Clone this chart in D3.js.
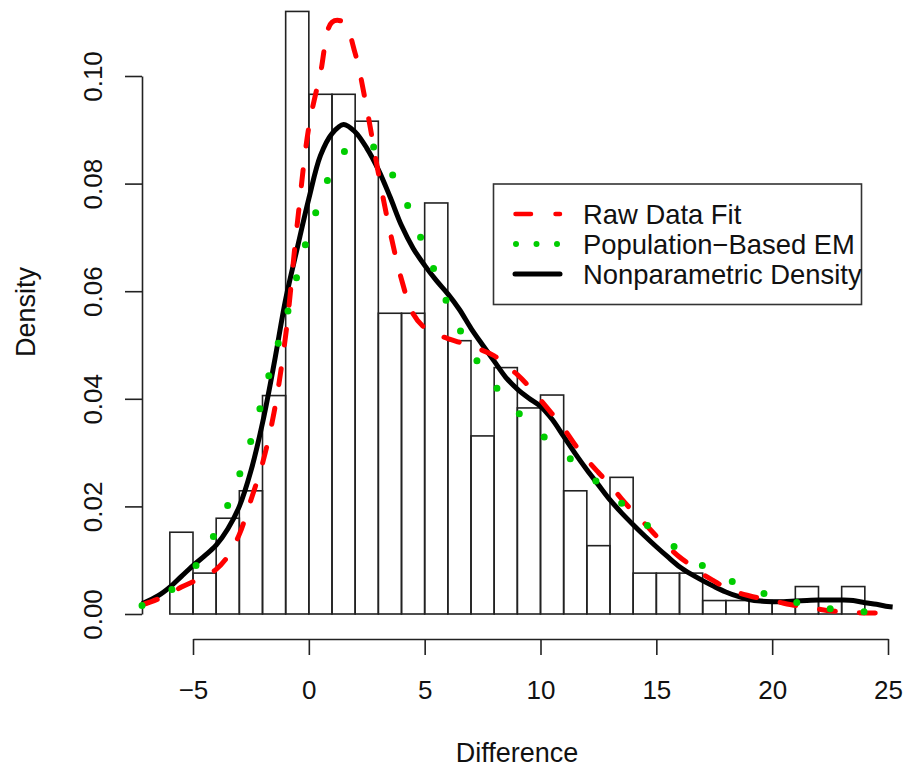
<!DOCTYPE html>
<html>
<head>
  <meta charset="utf-8"/>
  <script src="https://cdn.jsdelivr.net/npm/d3@7"></script>
  <style>
    body { margin: 0; background: #fff; }
    text { font-family: "Liberation Sans", Arial, Helvetica, sans-serif; fill: #111; }
  </style>
</head>
<body>
<div id="chart"></div>
<script>
  // histogram: left edges of the unit-wide bins and their densities
  var binStart = [-6, -5, -4, -3, -2, -1, 0, 1, 2, 3, 4, 5, 6, 7, 8, 9, 10, 11, 12, 13, 14, 15, 16, 17, 18, 19, 20, 21, 22, 23];
  var binDensity = [0.0152, 0.0076, 0.0178, 0.0229, 0.0406, 0.1120, 0.0966, 0.0966, 0.0916, 0.0559,
    0.0559, 0.0764, 0.0508, 0.0331, 0.0458, 0.0383, 0.0407, 0.0229, 0.0127, 0.0254,
    0.0076, 0.0076, 0.0076, 0.0025, 0.0025, 0.0025, 0.0025, 0.0051, 0.0025, 0.0051];

  // x positions where the three density curves were read
  var gridX = [-7.2, -6.5, -6, -5.5, -5, -4.5, -4, -3.5, -3, -2.5, -2, -1.5, -1, -0.5, 0, 0.5, 1, 1.5, 2, 2.5,
    3, 3.5, 4, 4.5, 5, 5.5, 6, 6.5, 7, 7.5, 8, 8.5, 9, 9.5, 10, 10.5, 11, 11.5, 12, 12.5,
    13, 13.5, 14, 14.5, 15, 15.5, 16, 16.5, 17, 17.5, 18, 18.5, 19, 19.5, 20, 20.5, 21, 21.5, 22, 22.5,
    23, 23.5, 24, 24.5, 25, 25.2];

  var rawFit = [0.0017, 0.0028, 0.0038, 0.0050, 0.0060, 0.0070, 0.0083, 0.0107, 0.0148, 0.0212,
    0.0280, 0.0375, 0.0518, 0.0725, 0.0905, 0.1005, 0.1100, 0.1100, 0.1042, 0.0940,
    0.0820, 0.0712, 0.0622, 0.0558, 0.0532, 0.0520, 0.0512, 0.0505, 0.0498, 0.0490,
    0.0480, 0.0462, 0.0445, 0.0423, 0.0398, 0.0372, 0.0345, 0.0314, 0.0287, 0.0263,
    0.0240, 0.0214, 0.0190, 0.0168, 0.0145, 0.0125, 0.0106, 0.0090, 0.0074, 0.0061,
    0.0049, 0.0040, 0.0034, 0.0029, 0.0025, 0.0020, 0.0016, 0.0012, 0.0009, 0.0006,
    0.0004, 0.0003, 0.0002, 0.0002, 0.0001, 0.0001];

  var popEM = [0.0016, 0.0030, 0.0043, 0.0060, 0.0083, 0.0113, 0.0155, 0.0202, 0.0258, 0.0322,
    0.0399, 0.0478, 0.0548, 0.0630, 0.0708, 0.0770, 0.0825, 0.0858, 0.0875, 0.0877,
    0.0858, 0.0825, 0.0784, 0.0736, 0.0681, 0.0630, 0.0575, 0.0530, 0.0490, 0.0454,
    0.0426, 0.0400, 0.0376, 0.0354, 0.0335, 0.0317, 0.0299, 0.0281, 0.0262, 0.0243,
    0.0225, 0.0206, 0.0188, 0.0169, 0.0151, 0.0134, 0.0118, 0.0104, 0.0090, 0.0077,
    0.0066, 0.0056, 0.0047, 0.0040, 0.0033, 0.0027, 0.0022, 0.0017, 0.0013, 0.0010,
    0.0008, 0.0006, 0.0004, 0.0003, 0.0002, 0.0002];

  var nonpar = [0.0019, 0.0034, 0.0050, 0.0070, 0.0090, 0.0108, 0.0128, 0.0158, 0.0200, 0.0266,
    0.0355, 0.0465, 0.0585, 0.0680, 0.0772, 0.0852, 0.0893, 0.0910, 0.0896, 0.0866,
    0.0826, 0.0776, 0.0722, 0.0680, 0.0648, 0.0620, 0.0595, 0.0566, 0.0531, 0.0500,
    0.0470, 0.0440, 0.0418, 0.0401, 0.0386, 0.0362, 0.0330, 0.0298, 0.0268, 0.0240,
    0.0212, 0.0188, 0.0166, 0.0145, 0.0125, 0.0106, 0.0088, 0.0074, 0.0062, 0.0051,
    0.0041, 0.0033, 0.0027, 0.0024, 0.0023, 0.0023, 0.0024, 0.0025, 0.0026, 0.0026,
    0.0026, 0.0025, 0.0021, 0.0018, 0.0014, 0.0013];

  var xTicks = [-5, 0, 5, 10, 15, 20, 25];
  var yTicks = [0, 0.02, 0.04, 0.06, 0.08, 0.10];
  var legendLabels = ["Raw Data Fit", "Population\u2212Based EM", "Nonparametric Density"];

  var W = 908, H = 772;
  var svg = d3.select("#chart").append("svg").attr("width", W).attr("height", H);

  var x = d3.scaleLinear().domain([-5, 25]).range([193, 888]);
  var y = d3.scaleLinear().domain([0, 0.10]).range([614, 76]);

  // bars
  svg.append("g").selectAll("rect")
    .data(binStart)
    .enter().append("rect")
    .attr("x", function(d) { return x(d); })
    .attr("width", function(d) { return x(d + 1) - x(d); })
    .attr("y", function(d, i) { return y(binDensity[i]); })
    .attr("height", function(d, i) { return y(0) - y(binDensity[i]); })
    .attr("fill", "none")
    .attr("stroke", "#222")
    .attr("stroke-width", 1.6);

  // axes, R style: detached, ticks outward
  var xAxis = svg.append("g")
    .attr("transform", "translate(0,639)")
    .call(d3.axisBottom(x).tickValues(xTicks).tickSize(16).tickSizeOuter(0).tickPadding(6)
      .tickFormat(d3.format("d")));
  var yAxis = svg.append("g")
    .attr("transform", "translate(142,0)")
    .call(d3.axisLeft(y).tickValues(yTicks).tickSize(17).tickSizeOuter(0)
      .tickFormat(d3.format(".2f")));
  [xAxis, yAxis].forEach(function(a) {
    a.select(".domain").attr("stroke", "#222").attr("stroke-width", 1.6);
    a.selectAll(".tick line").attr("stroke", "#222").attr("stroke-width", 1.6);
    a.selectAll("text").style("font-size", "26px").attr("fill", "#111");
  });
  xAxis.selectAll("text").attr("dy", null).attr("y", 60);
  yAxis.selectAll("text")
    .attr("x", null).attr("dy", null)
    .attr("text-anchor", "middle")
    .attr("transform", function() { return "translate(-40,0) rotate(-90)"; })
    .attr("y", 0);

  svg.append("text").attr("x", 517).attr("y", 762)
    .attr("text-anchor", "middle").style("font-size", "27px").text("Difference");
  svg.append("text").attr("transform", "translate(35,312) rotate(-90)")
    .attr("text-anchor", "middle").style("font-size", "27px").text("Density");

  // curves
  var line = d3.line()
    .x(function(d, i) { return x(gridX[i]); })
    .y(function(d) { return y(d); })
    .curve(d3.curveCatmullRom);

  svg.append("path").attr("d", line(nonpar))
    .attr("fill", "none").attr("stroke", "#000").attr("stroke-width", 5)
    .attr("stroke-linejoin", "round");
  svg.append("path").attr("d", line(rawFit))
    .attr("fill", "none").attr("stroke", "#ff0000").attr("stroke-width", 5)
    .attr("stroke-dasharray", "16 24").attr("stroke-linecap", "round");
  svg.append("path").attr("d", line(popEM))
    .attr("fill", "none").attr("stroke", "#00cd00").attr("stroke-width", 7)
    .attr("stroke-dasharray", "0 34").attr("stroke-linecap", "round");

  // legend
  var lg = svg.append("g");
  lg.append("rect").attr("x", 493.5).attr("y", 184).attr("width", 368).attr("height", 120.5)
    .attr("fill", "#fff").attr("stroke", "#333").attr("stroke-width", 1.6);
  var rowY = [214, 244, 274];
  lg.append("line").attr("x1", 515.5).attr("x2", 560).attr("y1", rowY[0]).attr("y2", rowY[0])
    .attr("stroke", "#ff0000").attr("stroke-width", 4.5)
    .attr("stroke-dasharray", "15.5 24.5").attr("stroke-linecap", "round");
  lg.append("line").attr("x1", 516).attr("x2", 558).attr("y1", rowY[1]).attr("y2", rowY[1])
    .attr("stroke", "#00cd00").attr("stroke-width", 6)
    .attr("stroke-dasharray", "0 20.5").attr("stroke-linecap", "round");
  lg.append("line").attr("x1", 515).attr("x2", 560).attr("y1", rowY[2]).attr("y2", rowY[2])
    .attr("stroke", "#000").attr("stroke-width", 5).attr("stroke-linecap", "round");
  lg.selectAll("text.lab").data(legendLabels).enter().append("text")
    .attr("class", "lab")
    .attr("x", 583).attr("y", function(d, i) { return rowY[i] + 10; })
    .style("font-size", "27.4px").text(function(d) { return d; });
</script>
</body>
</html>
